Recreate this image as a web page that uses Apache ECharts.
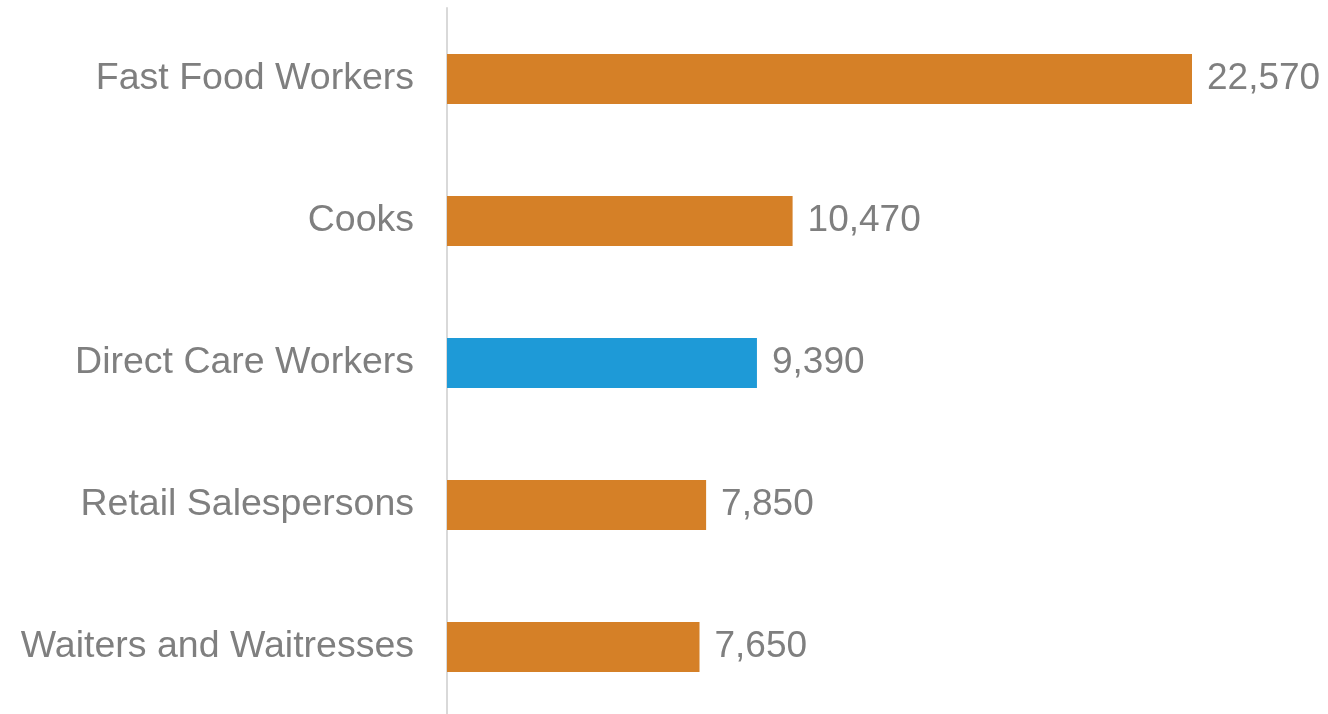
<!DOCTYPE html>
<html>
<head>
<meta charset="utf-8">
<style>
  html, body { margin: 0; padding: 0; background: #fff; }
  #chart { width: 1328px; height: 714px; }
</style>
<script src="https://cdn.jsdelivr.net/npm/echarts@6/dist/echarts.min.js"></script>
</head>
<body>
<div id="chart"></div>
<script>
// categories, top to bottom
const categories = ['Fast Food Workers', 'Cooks', 'Direct Care Workers', 'Retail Salespersons', 'Waiters and Waitresses']
const values = [22570, 10470, 9390, 7850, 7650]
const highlighted = 'Direct Care Workers'

const ORANGE = '#d58027'
const BLUE = '#1e9ad7'
const GREY = '#7f7f7f'
const FONT = '"Liberation Sans", Arial, sans-serif'

const chart = echarts.init(document.getElementById('chart'))

chart.setOption({
  animation: false,
  grid: { left: 447, right: 136, top: 8, height: 710, containLabel: false, outerBoundsMode: 'none' },
  xAxis: {
    type: 'value',
    min: 0,
    max: 22570,
    show: false
  },
  yAxis: {
    type: 'category',
    inverse: true,
    data: categories,
    axisLine: { show: true, lineStyle: { color: '#d9d9d9', width: 2 } },
    axisTick: { show: false },
    axisLabel: { color: GREY, fontSize: 37.5, fontFamily: FONT, margin: 33 }
  },
  series: [{
    type: 'bar',
    barWidth: 50,
    data: values.map((v, i) => ({
      value: v,
      itemStyle: { color: categories[i] === highlighted ? BLUE : ORANGE }
    })),
    label: {
      show: true,
      position: 'right',
      distance: 15,
      color: GREY,
      fontSize: 37,
      fontFamily: FONT,
      formatter: p => p.value.toLocaleString('en-US')
    }
  }]
})
</script>
</body>
</html>
